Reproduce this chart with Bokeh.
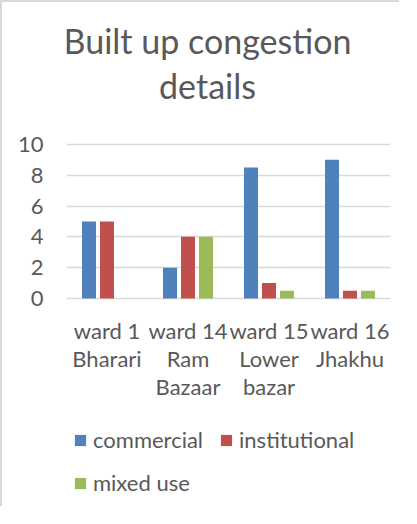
from bokeh.plotting import figure
from bokeh.models import ColumnDataSource, FactorRange, Range1d, Legend, LegendItem
from bokeh.core.properties import value
from bokeh.transform import dodge
from bokeh.embed import file_html
from bokeh.resources import INLINE

# ---- data ----
wards = ["ward 1", "ward 14", "ward 15", "ward 16"]
ward_labels = ["ward 1\nBharari", "ward 14\nRam\nBazaar", "ward 15\nLower\nbazar", "ward 16\nJhakhu"]
commercial = [5, 2, 8.5, 9]
institutional = [5, 4, 1, 0.5]
mixed_use = [0, 4, 0.5, 0.5]
series_names = ["commercial", "institutional", "mixed use"]
y_ticks = [0, 2, 4, 6, 8, 10]
title_text = "Built up congestion\ndetails"

colors = ["#4F81BD", "#C0504D", "#9BBB59"]
FONT = "Lato"
TXT = "#595959"
GRID = "#d9d9d9"

src = ColumnDataSource(dict(ward=wards, commercial=commercial,
                            institutional=institutional, mixed=mixed_use))

# split the multi-line category labels into lines (layout only)
lx, lt, lb, lo = [], [], [], []
for w, lab in zip(wards, ward_labels):
    for i, line in enumerate(lab.split("\n")):
        lx.append(w)
        lt.append(line)
        lb.append(y_ticks[0])
        lo.append(32 + 28 * i)
lab_src = ColumnDataSource(dict(ward=lx, label=lt, base=lb, off=lo))

t_lines = title_text.split("\n")
title_src = ColumnDataSource(dict(x=[len(wards) / 2] * len(t_lines), y=[y_ticks[-1]] * len(t_lines),
                                  text=t_lines, off=[-104 + 45 * i for i in range(len(t_lines))]))

# y range extended so that title / labels / legend live inside the frame
p = figure(width=399, height=506, x_range=FactorRange(*wards, range_padding=0),
           y_range=Range1d(-13.64, 19.22), output_backend="svg", toolbar_location=None,
           min_border_left=64, min_border_right=11, min_border_top=0, min_border_bottom=0)
p.styles = {"border-left": "2px solid #d9d9d9", "border-top": "2px solid #d9d9d9"}
p.outline_line_color = None
p.xaxis.visible = False

step = 0.222
width = 0.173
keys = ["commercial", "institutional", "mixed"]
renderers = []
for i, (k, c) in enumerate(zip(keys, colors)):
    r = p.vbar(x=dodge("ward", (i - 1) * step, range=p.x_range), top=k, width=width,
               source=src, fill_color=c, line_color=None)
    renderers.append(r)

p.xgrid.grid_line_color = None
p.ygrid.ticker = y_ticks
p.ygrid.grid_line_color = GRID
p.ygrid.grid_line_width = 1.3
p.yaxis.ticker = y_ticks
p.yaxis.axis_line_color = None
p.yaxis.major_tick_line_color = None
p.yaxis.minor_tick_line_color = None
p.yaxis.major_label_standoff = 17
p.yaxis.major_label_text_font = FONT
p.yaxis.major_label_text_font_size = "22px"
p.yaxis.major_label_text_color = TXT

# category labels under the zero line
p.text(x="ward", y="base", text="label", source=lab_src, y_offset="off",
       text_align="center", text_baseline="alphabetic", text_font=value(FONT),
       text_font_size="22px", text_color=TXT)

# title
p.text(x="x", y="y", text="text", source=title_src, x_offset=-21, y_offset="off",
       text_align="center", text_baseline="alphabetic", text_font=value(FONT),
       text_font_size="34px", text_color=TXT)

legend = Legend(items=[LegendItem(label=n, renderers=[r]) for n, r in zip(series_names, renderers)],
                ncols=2, orientation="horizontal", location=(7, 12),
                glyph_width=14, glyph_height=14, label_standoff=6, spacing=16,
                label_text_font=FONT, label_text_font_size="22px", label_text_color=TXT,
                border_line_color=None, background_fill_alpha=0, padding=0, margin=0)
p.add_layout(legend, "center")

open("out.html", "w").write(file_html(p, INLINE))
